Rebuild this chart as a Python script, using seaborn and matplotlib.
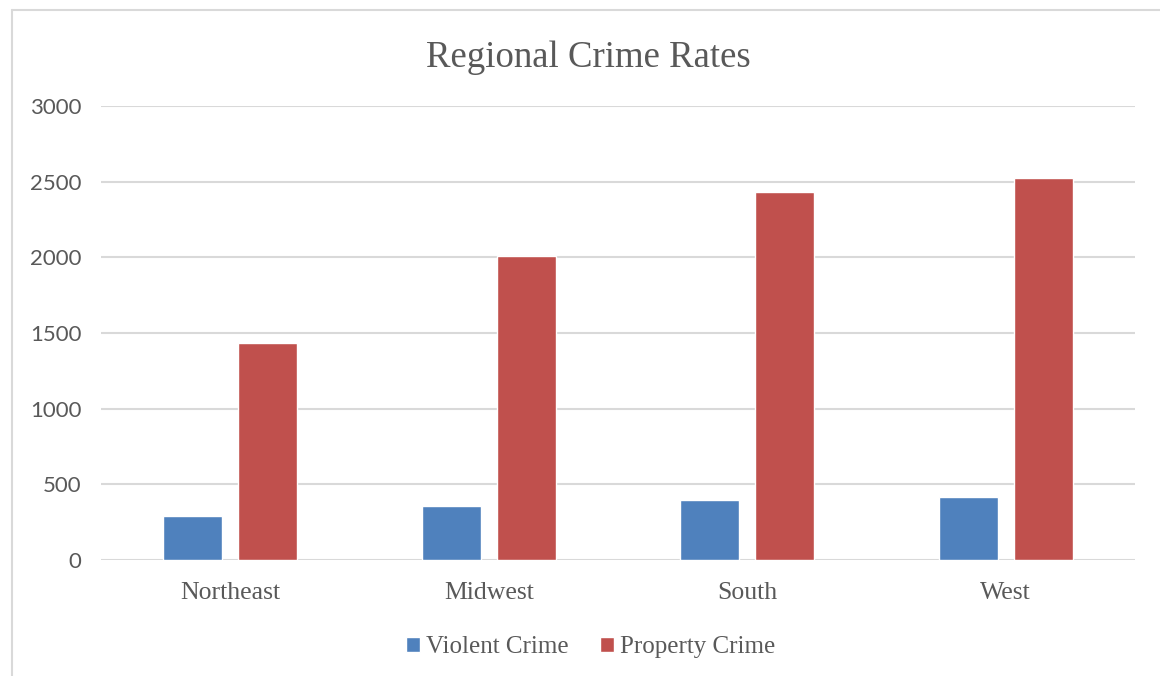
import matplotlib
matplotlib.use("Agg")
import matplotlib.pyplot as plt
import seaborn as sns
import pandas as pd
from matplotlib.lines import Line2D

regions = ["Northeast", "Midwest", "South", "West"]
violent = [288, 356, 398, 416]
property_ = [1434, 2011, 2430, 2527]
series_names = ["Violent Crime", "Property Crime"]
yticks = [0, 500, 1000, 1500, 2000, 2500, 3000]

df = pd.DataFrame({
    "Region": regions * 2,
    "Type": [series_names[0]] * 4 + [series_names[1]] * 4,
    "Rate": violent + property_,
})

sns.set_theme(style="white")
serif = ["Liberation Serif", "DejaVu Serif"]
sans = ["Lato", "DejaVu Sans"]
txt = "#595959"

fig = plt.figure(figsize=(11.6, 6.76), dpi=100)
W, H = 1160, 676
ax = fig.add_axes([101 / W, (H - 560) / H, 1034 / W, 454 / H])

sns.barplot(data=df, x="Region", y="Rate", hue="Type", order=regions,
            hue_order=series_names, palette=["#4F81BD", "#C0504D"],
            width=0.58, gap=0.21, saturation=1, ax=ax, legend=True)

ax.set_ylim(0, 3000)
ax.set_xlim(-0.5, 3.5)
ax.set_yticks(yticks)
ax.set_yticklabels([str(v) for v in yticks], family=sans, fontsize=16, color=txt)
ax.set_xticks(range(len(regions)))
ax.set_xticklabels(regions, family=serif, fontsize=18.5, color=txt)
ax.tick_params(axis="y", length=0, pad=14)
ax.tick_params(axis="x", length=0, pad=16)
ax.set_xlabel("")
ax.set_ylabel("")
for s in ax.spines.values():
    s.set_visible(False)
ax.set_axisbelow(True)
ax.yaxis.grid(True, color="#D9D9D9", linewidth=1.5)
ax.xaxis.grid(False)

handles, labels = ax.get_legend_handles_labels()
ax.get_legend().remove()
leg = fig.legend(handles, labels, loc="center", bbox_to_anchor=(591 / W, 1 - 647 / H),
                 ncol=2, frameon=False, handlelength=0.55, handleheight=0.55,
                 handletextpad=0.25, columnspacing=1.25,
                 prop={"family": serif, "size": 18})
for t in leg.get_texts():
    t.set_color(txt)

fig.text(588 / W, 1 - 58 / H, "Regional Crime Rates", ha="center", va="center",
         family=serif, fontsize=26.5, color=txt)

# chart-area border (left and top visible)
fig.add_artist(Line2D([11.5 / W, 11.5 / W], [0, 1 - 9.5 / H], color="#D9D9D9",
                      linewidth=1.5, transform=fig.transFigure))
fig.add_artist(Line2D([11.5 / W, 1], [1 - 9.5 / H, 1 - 9.5 / H], color="#D9D9D9",
                      linewidth=1.5, transform=fig.transFigure))

fig.savefig("out.png", dpi=100, facecolor="white")
